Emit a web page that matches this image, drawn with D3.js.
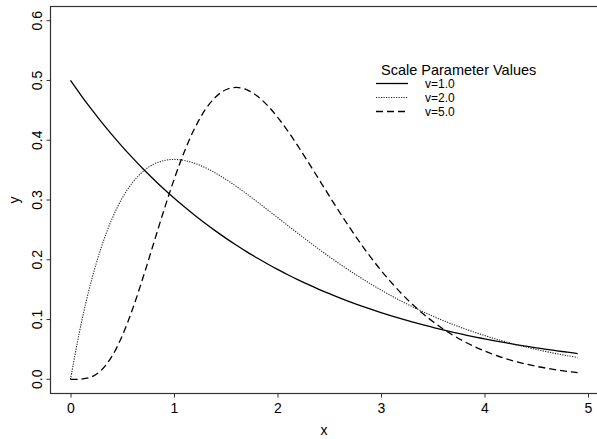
<!DOCTYPE html>
<html>
<head>
<meta charset="utf-8">
<script src="https://cdn.jsdelivr.net/npm/d3@7"></script>
<style>
  body { margin: 0; background: #fff; }
  text { font-family: "Liberation Sans", Arial, sans-serif; fill: #000; }
</style>
</head>
<body>
<script>
// x grid used by all three curves
const xs = d3.range(50).map(i => i / 10);

// densities, one value per x above
const v1 = [0.5000,0.4756,0.4524,0.4304,0.4094,0.3894,0.3704,0.3523,0.3352,0.3188,
            0.3033,0.2885,0.2744,0.2610,0.2483,0.2362,0.2247,0.2137,0.2033,0.1934,
            0.1839,0.1750,0.1664,0.1583,0.1506,0.1433,0.1363,0.1296,0.1233,0.1173,
            0.1116,0.1061,0.1009,0.0960,0.0913,0.0869,0.0826,0.0786,0.0748,0.0711,
            0.0677,0.0644,0.0612,0.0582,0.0554,0.0527,0.0501,0.0477,0.0454,0.0431];
const v2 = [0.0000,0.0905,0.1637,0.2222,0.2681,0.3033,0.3293,0.3476,0.3595,0.3659,
            0.3679,0.3662,0.3614,0.3543,0.3452,0.3347,0.3230,0.3106,0.2975,0.2842,
            0.2707,0.2572,0.2438,0.2306,0.2177,0.2052,0.1931,0.1815,0.1703,0.1596,
            0.1494,0.1397,0.1304,0.1217,0.1135,0.1057,0.0984,0.0915,0.0850,0.0789,
            0.0733,0.0679,0.0630,0.0583,0.0540,0.0500,0.0462,0.0427,0.0395,0.0365];
const v5 = [0.0000,0.0003,0.0039,0.0156,0.0383,0.0729,0.1177,0.1698,0.2256,0.2814,
            0.3340,0.3808,0.4201,0.4506,0.4720,0.4845,0.4884,0.4848,0.4745,0.4588,
            0.4387,0.4153,0.3896,0.3624,0.3347,0.3068,0.2795,0.2532,0.2281,0.2044,
            0.1823,0.1619,0.1431,0.1261,0.1106,0.0968,0.0843,0.0733,0.0635,0.0549,
            0.0473,0.0407,0.0349,0.0298,0.0255,0.0217,0.0185,0.0157,0.0133,0.0112];

const seriesNames = ["v=1.0", "v=2.0", "v=5.0"];
const xTicks = [0, 1, 2, 3, 4, 5];
const yTicks = [0, 0.1, 0.2, 0.3, 0.4, 0.5, 0.6];

const W = 597, H = 439;
const svg = d3.select("body").append("svg")
    .attr("width", W)
    .attr("height", H);

const x = d3.scaleLinear().domain([0, 5]).range([70.5, 588]);
const y = d3.scaleLinear().domain([0, 0.6]).range([379.3, 20.7]);

// frame (right side runs off the picture)
svg.append("rect")
    .attr("x", 50.5).attr("y", 6.5)
    .attr("width", 548).attr("height", 387)
    .attr("fill", "none")
    .attr("stroke", "#333")
    .attr("stroke-width", 1.2);

// axes
const xAxis = svg.append("g")
    .attr("transform", "translate(0,393.5)")
    .call(d3.axisBottom(x).tickValues(xTicks).tickFormat(d3.format("d")).tickSizeOuter(0).tickSize(4).tickPadding(6));
xAxis.select(".domain").remove();
xAxis.selectAll("line").attr("stroke", "#333");
xAxis.selectAll("text").style("font-size", "14px").attr("fill", "#000");

const yAxis = svg.append("g")
    .attr("transform", "translate(50.5,0)")
    .call(d3.axisLeft(y).tickValues(yTicks).tickFormat(d3.format(".1f")).tickSizeOuter(0).tickSize(4));
yAxis.select(".domain").remove();
yAxis.selectAll("line").attr("stroke", "#333");
yAxis.selectAll("text")
    .style("font-size", "14px")
    .attr("fill", "#000")
    .attr("text-anchor", "middle")
    .attr("dy", null)
    .attr("x", 0)
    .attr("transform", d => `translate(-8.5,${y(d)}) rotate(-90)`)
    .attr("y", 0);
yAxis.selectAll(".tick").attr("transform", null);
yAxis.selectAll(".tick line").attr("transform", d => `translate(0,${y(d)})`);

// axis titles
svg.append("text")
    .attr("x", 324).attr("y", 435)
    .attr("text-anchor", "middle")
    .style("font-size", "14px")
    .text("x");
svg.append("text")
    .attr("transform", "translate(19,200) rotate(-90)")
    .attr("text-anchor", "middle")
    .style("font-size", "14px")
    .text("y");

// curves
const styles = [
    { data: v1, dash: null, width: 1.3, color: "#000" },
    { data: v2, dash: "1.2,1.3", width: 1.1, color: "#222" },
    { data: v5, dash: "7,4", width: 1.3, color: "#000" }
];
const line = d3.line()
    .x(d => x(d[0]))
    .y(d => y(d[1]))
    .curve(d3.curveCatmullRom);

styles.forEach(s => {
    svg.append("path")
        .datum(xs.map((xv, i) => [xv, s.data[i]]))
        .attr("fill", "none")
        .attr("stroke", s.color)
        .attr("stroke-width", s.width)
        .attr("stroke-dasharray", s.dash)
        .attr("d", line);
});

// legend
const legend = svg.append("g");
legend.append("text")
    .attr("x", 381).attr("y", 75)
    .style("font-size", "14.5px")
    .text("Scale Parameter Values");
seriesNames.forEach((name, i) => {
    const ly = 83.5 + i * 14;
    legend.append("line")
        .attr("x1", 376).attr("x2", 408)
        .attr("y1", ly).attr("y2", ly)
        .attr("stroke", styles[i].color)
        .attr("stroke-width", styles[i].width)
        .attr("stroke-dasharray", styles[i].dash);
    legend.append("text")
        .attr("x", 425).attr("y", ly + 4.3)
        .style("font-size", "12px")
        .text(name);
});
</script>
</body>
</html>
